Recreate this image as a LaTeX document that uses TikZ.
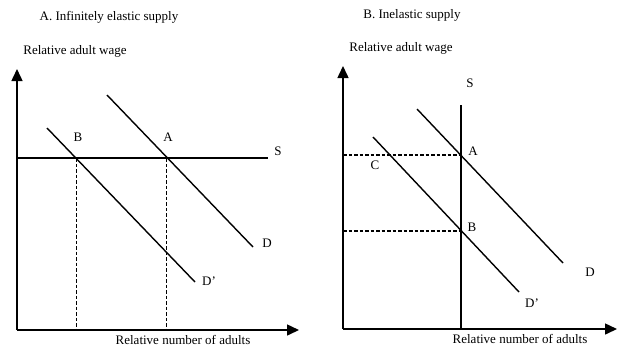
\documentclass[tikz,border=0pt]{standalone}
\usepackage{fontspec}
\setmainfont{Liberation Serif}
\usetikzlibrary{arrows.meta}
\begin{document}
\begin{tikzpicture}[x=1pt,y=-1pt,
  axis/.style={line width=1.5pt,-{Triangle[width=11pt,length=12pt]}},
  curve/.style={line width=1.4pt},
  guide/.style={line width=1.3pt,dash pattern=on 3.5pt off 2pt},
  lbl/.style={inner sep=0pt,font=\fontsize{13}{15}\selectfont},
  ttl/.style={inner sep=0pt,font=\fontsize{13}{15}\selectfont}]
\useasboundingbox[fill=white] (0,0) rectangle (617,349);
% ---------- Panel A ----------
\node[ttl] (titleA) at (109,17) {A. Infinitely elastic supply};
\node[lbl] (ylabA) at (75,51) {Relative adult wage};
\node[lbl] (xlabA) at (183,340) {Relative number of adults};
\coordinate (OA) at (17,330);
\coordinate (yA) at (17,69);
\coordinate (xA) at (299,330);
\draw[axis] (OA) -- (yA);
\draw[axis] (OA) -- (xA);
\coordinate (SA0) at (17,158);
\coordinate (SA1) at (268,158);
\draw[curve] (SA0) -- (SA1);
\coordinate (DA0) at (107,95);
\coordinate (DA1) at (253,247);
\draw[curve] (DA0) -- (DA1);
\coordinate (DpA0) at (47,128);
\coordinate (DpA1) at (195,282);
\draw[curve] (DpA0) -- (DpA1);
\coordinate (ptA) at (166.5,158);
\coordinate (ptB) at (76.5,158);
\coordinate (ptAb) at (166.5,330);
\coordinate (ptBb) at (76.5,330);
\draw[guide] (ptA) -- (ptAb);
\draw[guide] (ptB) -- (ptBb);
\node[lbl] (labSA) at (278,151) {S};
\node[lbl] (labAA) at (168,137) {A};
\node[lbl] (labBA) at (78,137) {B};
\node[lbl] (labDA) at (267,243) {D};
\node[lbl] (labDpA) at (209,281) {D'};
% ---------- Panel B ----------
\node[ttl] (titleB) at (412,15) {B. Inelastic supply};
\node[lbl] (ylabB) at (401,48) {Relative adult wage};
\node[lbl] (xlabB) at (520,339) {Relative number of adults};
\coordinate (OB) at (343,329);
\coordinate (yB) at (343,66);
\coordinate (xB) at (617,329);
\draw[axis] (OB) -- (yB);
\draw[axis] (OB) -- (xB);
\coordinate (SB0) at (461,105);
\coordinate (SB1) at (461,329);
\draw[curve] (SB0) -- (SB1);
\coordinate (DB0) at (417,109);
\coordinate (DB1) at (563,263);
\draw[curve] (DB0) -- (DB1);
\coordinate (DpB0) at (373,137);
\coordinate (DpB1) at (519,292);
\draw[curve] (DpB0) -- (DpB1);
\coordinate (ptAB) at (461,155);
\coordinate (ptBB) at (461,231);
\coordinate (ptAl) at (343,155);
\coordinate (ptBl) at (343,231);
\draw[guide] (ptAl) -- (ptAB);
\draw[guide] (ptBl) -- (ptBB);
\node[lbl] (labSB) at (470,83) {S};
\node[lbl] (labAB) at (473,151) {A};
\node[lbl] (labBB) at (472,227) {B};
\node[lbl] (labCB) at (375,165) {C};
\node[lbl] (labDB) at (590,272) {D};
\node[lbl] (labDpB) at (532,303) {D'};
\end{tikzpicture}
\end{document}
